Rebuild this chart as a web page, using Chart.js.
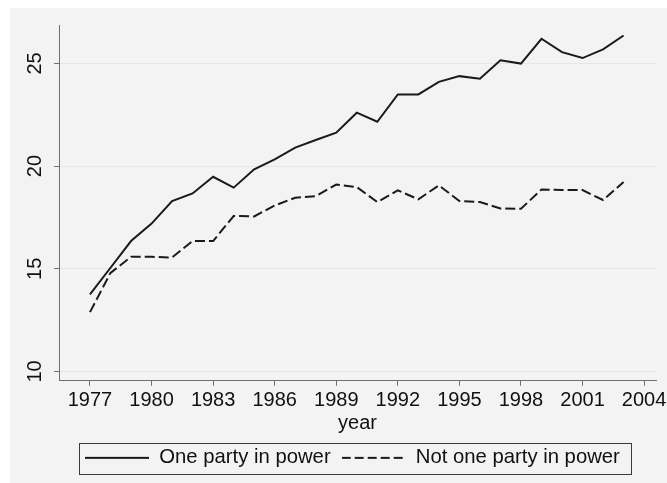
<!DOCTYPE html>
<html>
<head>
<meta charset="utf-8">
<script src="https://cdn.jsdelivr.net/npm/chart.js@4.4.0/dist/chart.umd.min.js"></script>
<style>
html,body{margin:0;padding:0;background:#ffffff;width:667px;height:483px;overflow:hidden;}
#panel{position:absolute;left:10px;top:8px;right:0;bottom:0;background:#f3f3f3;}
#wrap{position:absolute;left:0;top:0;width:667px;height:483px;}
canvas{display:block;}
</style>
</head>
<body>
<div id="panel"></div>
<div id="wrap"><canvas id="c" width="667" height="483"></canvas></div>
<script>
// ---- data ----
const years = [1977,1978,1979,1980,1981,1982,1983,1984,1985,1986,1987,1988,1989,1990,
               1991,1992,1993,1994,1995,1996,1997,1998,1999,2000,2001,2002,2003];
const onePartyInPower = [13.75,15.05,16.35,17.2,18.3,18.67,19.48,18.95,19.84,20.33,20.9,21.27,21.63,22.6,
                         22.16,23.49,23.49,24.1,24.38,24.25,25.15,24.99,26.2,25.55,25.26,25.68,26.36];
const notOnePartyInPower = [12.89,14.8,15.58,15.58,15.55,16.35,16.35,17.57,17.55,18.08,18.46,18.54,19.1,18.98,
                            18.25,18.82,18.38,19.06,18.3,18.25,17.94,17.92,18.86,18.83,18.83,18.35,19.22];
const xTickLabels = [1977,1980,1983,1986,1989,1992,1995,1998,2001,2004];
const yTickLabels = [10,15,20,25];
const seriesNames = ['One party in power','Not one party in power'];
const xTitle = 'year';

const FONT = "'Liberation Sans', Arial, Helvetica, sans-serif";
Chart.defaults.font.family = FONT;
Chart.defaults.color = '#111111';

// legend line samples (solid / dashed), used as legend point styles
function makeSample(dash) {
  const c = document.createElement('canvas');
  c.width = 64; c.height = 4;
  const g = c.getContext('2d');
  g.strokeStyle = '#1a1a1a';
  g.lineWidth = 2;
  g.setLineDash(dash);
  g.beginPath(); g.moveTo(0, 2); g.lineTo(64, 2); g.stroke();
  return c;
}
const legendSamples = [makeSample([]), makeSample([9, 4])];

const legendFramePlugin = {
  id: 'legendFrame',
  afterLayout(chart) {
    const lg = chart.legend;
    if (lg) { lg.left -= 5; lg.right -= 5; }
  },
  afterDraw(chart) {
    const lg = chart.legend;
    if (!lg || !lg.lineWidths) return;
    const pad = lg.options.labels.padding;
    const lw = lg.lineWidths[0];
    const x0 = (lg.left + pad + lg.right - lw) / 2;
    const ctx = chart.ctx;
    ctx.save();
    ctx.strokeStyle = '#3a3a3a';
    ctx.lineWidth = 1;
    ctx.setLineDash([]);
    ctx.strokeRect(Math.round(x0 - 6) + 0.5, Math.round(lg.top + 6) + 0.5, Math.round(lw + 6), 31);
    ctx.restore();
  }
};

const toPoints = vals => years.map((yr, i) => ({x: yr, y: vals[i]}));

new Chart(document.getElementById('c'), {
  type: 'line',
  data: {
    datasets: [
      {
        label: seriesNames[0],
        data: toPoints(onePartyInPower),
        borderColor: '#1a1a1a',
        backgroundColor: '#1a1a1a',
        borderWidth: 2,
        pointRadius: 0,
        tension: 0,
        fill: false
      },
      {
        label: seriesNames[1],
        data: toPoints(notOnePartyInPower),
        borderColor: '#1a1a1a',
        backgroundColor: '#1a1a1a',
        borderWidth: 2,
        borderDash: [10, 4],
        pointRadius: 0,
        tension: 0,
        fill: false
      }
    ]
  },
  options: {
    responsive: false,
    animation: false,
    devicePixelRatio: 1,
    layout: { padding: { left: 0, top: 25, right: 11, bottom: 5 } },
    scales: {
      x: {
        type: 'linear',
        min: 1975.49,
        max: 2004.58,
        afterBuildTicks: s => { s.ticks = xTickLabels.map(v => ({value: v})); },
        afterFit: s => { s.height = 56; s.paddingLeft = 0; s.paddingRight = 0; },
        ticks: {
          callback: v => String(v),
          font: { size: 20, lineHeight: 1.2 },
          color: '#111111',
          padding: 3,
          maxRotation: 0,
          autoSkip: false
        },
        grid: { display: true, drawOnChartArea: false, drawTicks: true, tickLength: 5, tickColor: '#707070', tickWidth: 1 },
        border: { display: true, color: '#707070', width: 1 },
        title: { display: true, text: xTitle, font: { size: 20, lineHeight: 1.2 }, color: '#111111', padding: { top: 0, bottom: 1.5 } }
      },
      y: {
        type: 'linear',
        min: 9.55,
        max: 26.87,
        afterBuildTicks: s => { s.ticks = yTickLabels.map(v => ({value: v})); },
        afterFit: s => { s.width = 59; s.paddingTop = 0; s.paddingBottom = 0; },
        ticks: {
          callback: v => String(v),
          font: { size: 20, lineHeight: 1.2 },
          color: '#111111',
          minRotation: 90,
          maxRotation: 90,
          crossAlign: 'center',
          padding: 7
        },
        grid: { color: '#e6e6e6', lineWidth: 1, drawTicks: true, tickLength: 5, tickColor: '#707070', tickWidth: 1 },
        border: { display: true, color: '#707070', width: 1 }
      }
    },
    plugins: {
      tooltip: { enabled: false },
      title: { display: false },
      legend: {
        display: true,
        position: 'bottom',
        fullSize: false,
        align: 'center',
        labels: {
          usePointStyle: true,
          pointStyleWidth: 64,
          font: { size: 20.3 },
          color: '#111111',
          padding: 11,
          generateLabels: chart => {
            const items = Chart.defaults.plugins.legend.labels.generateLabels(chart);
            items.forEach((it, i) => { it.pointStyle = legendSamples[i]; });
            return items;
          }
        }
      }
    }
  },
  plugins: [legendFramePlugin]
});
</script>
</body>
</html>
